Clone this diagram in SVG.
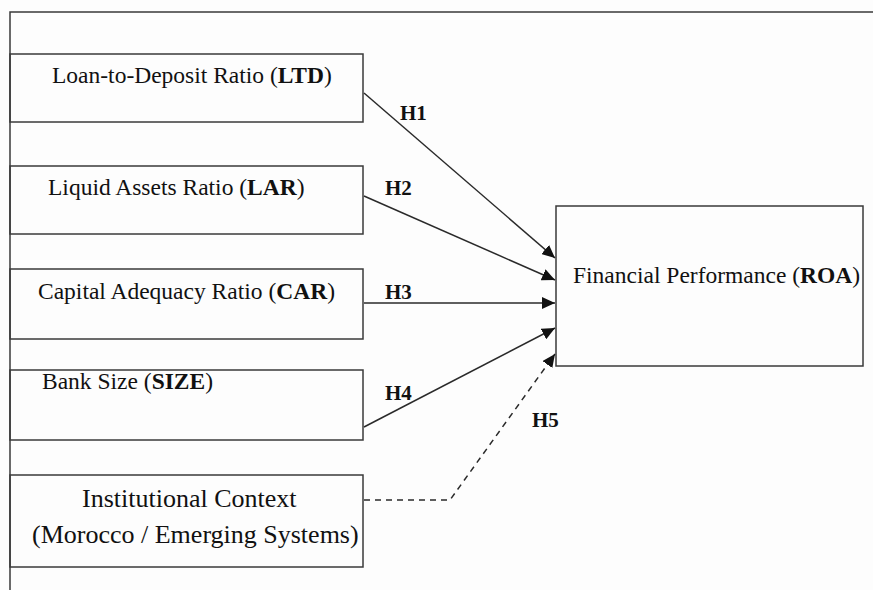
<svg xmlns="http://www.w3.org/2000/svg" width="873" height="590" viewBox="0 0 873 590">
  <defs>
    <marker id="arr" markerUnits="userSpaceOnUse" markerWidth="14" markerHeight="12" refX="13" refY="6" orient="auto">
      <path d="M0,0 L13,6 L0,12 Z" fill="#111"/>
    </marker>
    <style>
      .box{fill:none;stroke:#3a3a3a;stroke-width:1.5}
      .t{font-family:"Liberation Serif","Times New Roman",serif;font-size:23.5px;fill:#111}
      .tl{font-family:"Liberation Serif","Times New Roman",serif;font-size:26px;fill:#111}
      .h{font-family:"Liberation Serif","Times New Roman",serif;font-size:21px;font-weight:bold;fill:#111}
      .c{fill:none;stroke:#2a2a2a;stroke-width:1.5}
      b{font-weight:bold}
    </style>
  </defs>
  <rect width="873" height="590" fill="#fdfdfd"/>
  <g id="frame">
    <path d="M873,12 H10 V590" class="box"/>
  </g>
  <g id="ltd">
    <rect x="10" y="54" width="353" height="68" class="box"/>
    <text x="52" y="83" class="t">Loan-to-Deposit Ratio (<tspan font-weight="bold">LTD</tspan>)</text>
  </g>
  <g id="lar">
    <rect x="10" y="166" width="353" height="68" class="box"/>
    <text x="48" y="195" class="t">Liquid Assets Ratio (<tspan font-weight="bold">LAR</tspan>)</text>
  </g>
  <g id="car">
    <rect x="10" y="269" width="353" height="70" class="box"/>
    <text x="38" y="299" class="t">Capital Adequacy Ratio (<tspan font-weight="bold">CAR</tspan>)</text>
  </g>
  <g id="size">
    <rect x="10" y="370" width="353" height="70" class="box"/>
    <text x="42" y="389" class="t">Bank Size (<tspan font-weight="bold">SIZE</tspan>)</text>
  </g>
  <g id="context">
    <rect x="10" y="475" width="353" height="92" class="box"/>
    <text x="82" y="507" class="tl">Institutional Context</text>
    <text x="32" y="543" class="tl">(Morocco / Emerging Systems)</text>
  </g>
  <g id="roa">
    <rect x="556" y="206" width="307" height="160" class="box"/>
    <text x="573" y="283" class="t">Financial Performance (<tspan font-weight="bold">ROA</tspan>)</text>
  </g>
  <g id="connectors">
    <path d="M364,93 L555,258" class="c" marker-end="url(#arr)"/>
    <path d="M364,196 L555,280" class="c" marker-end="url(#arr)"/>
    <path d="M364,303 L555,303" class="c" marker-end="url(#arr)"/>
    <path d="M364,427 L555,328" class="c" marker-end="url(#arr)"/>
    <path d="M364,500 L450,500 L555,354" class="c" stroke-dasharray="6,5" marker-end="url(#arr)"/>
    <text x="400" y="120" class="h">H1</text>
    <text x="385" y="195" class="h">H2</text>
    <text x="385" y="299" class="h">H3</text>
    <text x="385" y="400" class="h">H4</text>
    <text x="532" y="427" class="h">H5</text>
  </g>
</svg>
